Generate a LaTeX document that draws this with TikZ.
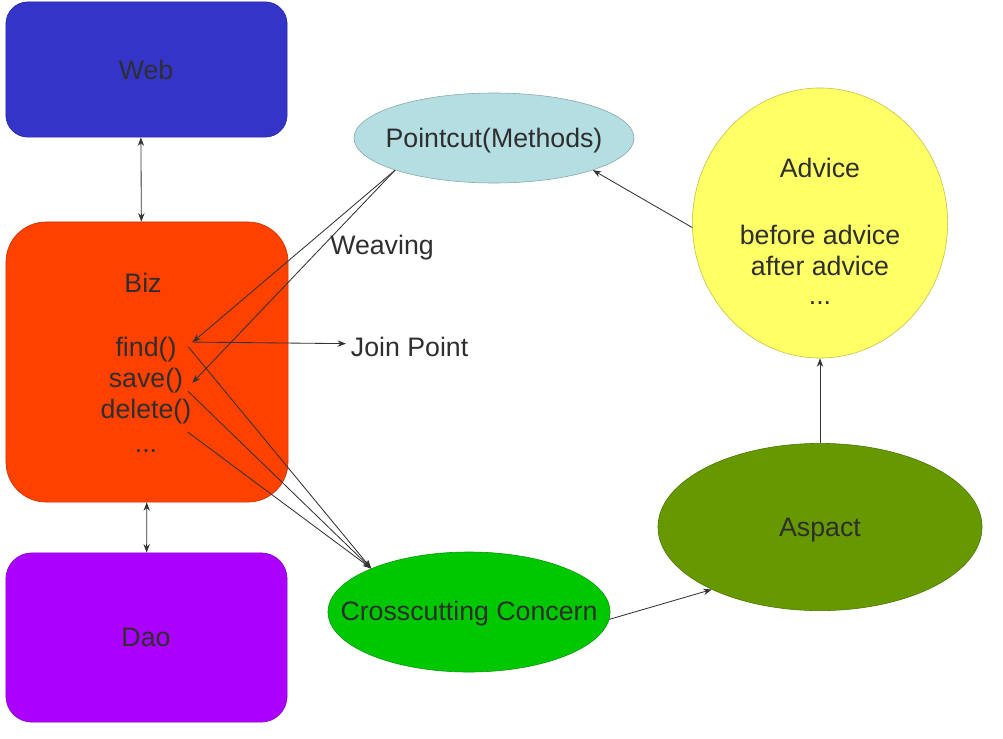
\documentclass[tikz,border=0pt]{standalone}
\usepackage{fontspec}
\setmainfont{Liberation Sans}
\usepackage{tikz}
\usetikzlibrary{shapes.geometric,arrows.meta}
\definecolor{webblue}{HTML}{3434C8}
\definecolor{bizred}{HTML}{FF4100}
\definecolor{daopurple}{HTML}{AC00FF}
\definecolor{pointblue}{HTML}{B4DEE2}
\definecolor{adviceyellow}{HTML}{FFFF66}
\definecolor{aspactgreen}{HTML}{669900}
\definecolor{crossgreen}{HTML}{00C800}

\begin{document}
\begin{tikzpicture}[x=0.025cm,y=-0.025cm,
         every node/.style={font=\fontsize{19}{23}\selectfont,text=black!82},
         box/.style={draw=#1!75!black,fill=#1,rectangle,inner sep=0pt},
         oval/.style={draw=#1!75!black,fill=#1,ellipse,inner sep=0pt},
         txt/.style={anchor=base},
         link/.style={draw=black!80,line width=0.6pt,-{Stealth[length=6pt,width=4.5pt]}},
         both/.style={link,{Stealth[length=6pt,width=4.5pt]}-{Stealth[length=6pt,width=4.5pt]}}]
         \useasboundingbox (0,0) rectangle (1003,738);

         \node[box=webblue,rounded corners=0.55cm,minimum width=7.03cm,minimum height=3.38cm] (web) at (146.5,69.5) {};
         \node[txt] (webtxt) at (146,79) {Web};
         \node[box=bizred,rounded corners=1cm,minimum width=7.05cm,minimum height=7cm] (biz) at (147,362) {};
         \node[txt] (biztxt) at (143,292) {Biz};
         \node[txt] (find) at (146,356) {find()};
         \node[txt] (save) at (146,387) {save()};
         \node[txt] (delete) at (146,418) {delete()};
         \node[txt] (bizdots) at (146,452) {...};
         \node[box=daopurple,rounded corners=0.65cm,minimum width=7.03cm,minimum height=4.23cm] (dao) at (146.5,637.5) {};
         \node[txt] (daotxt) at (146,646) {Dao};

         \node[oval=pointblue,minimum width=7cm,minimum height=2.25cm] (pointcut) at (494,138) {};
         \node[txt] (pointtxt) at (494,147) {Pointcut(Methods)};
         \node[oval=adviceyellow,minimum width=6.38cm,minimum height=6.75cm] (advice) at (820,223) {};
         \node[txt] (advtitle) at (820,177) {Advice};
         \node[txt] (before) at (820,244) {before advice};
         \node[txt] (after) at (820,275) {after advice};
         \node[txt] (advdots) at (820,304) {...};
         \node[oval=aspactgreen,minimum width=8.1cm,minimum height=4.18cm] (aspact) at (820,527) {};
         \node[txt] (aspacttxt) at (820,536) {Aspact};
         \node[oval=crossgreen,minimum width=7.05cm,minimum height=3cm] (cross) at (469,612) {};
         \node[txt] (crosstxt) at (469,620) {Crosscutting Concern};
         \node[txt] (weaving) at (382,254) {Weaving};
         \node[txt,anchor=base west] (join) at (346,356) {Join Point};

         \draw[both] ([xshift=-4pt]web.south) -- ([xshift=-4pt]biz.north);
         \draw[both] (biz) -- (dao);
         \draw[link] (aspact) -- (advice);
         \draw[link] (advice.182) -- (pointcut.-18);
         \draw[link] (cross.-3) -- (aspact.210);
         \draw[link] (pointcut.198) -- ([xshift=8pt,yshift=5pt]find.east);
         \draw[link] (pointcut.198) -- ([xshift=3pt,yshift=-2pt]save.east);
         \draw[link] ([xshift=8pt,yshift=5pt]find.east) -- ([yshift=2pt]join.west);
         \draw[link] ([xshift=5pt,yshift=1.5pt]find.east) -- (cross.156);
         \draw[link] ([yshift=-8pt]save.east) -- (cross.156);
         \draw[link] ([xshift=-6pt,yshift=-15pt]delete.east) -- (cross.156);
      \end{tikzpicture}
\end{document}
